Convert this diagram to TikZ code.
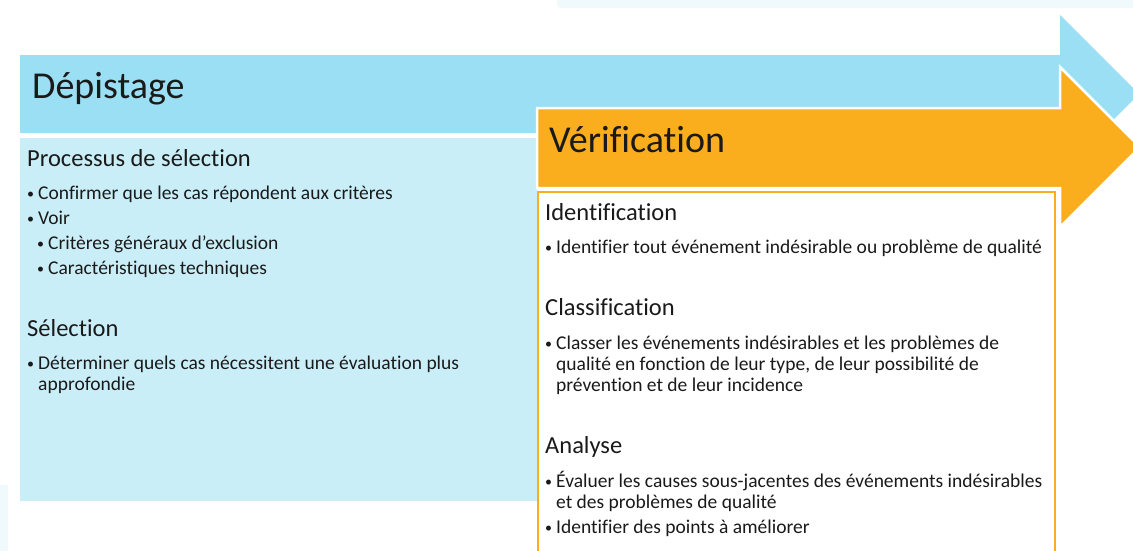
\documentclass[tikz,border=0pt]{standalone}
\usepackage{fontspec}
\setmainfont{Carlito}[Ligatures=NoCommon]
\definecolor{skyband}{HTML}{9ADFF3}
\definecolor{skypale}{HTML}{CAEEF8}
\definecolor{skyfaint}{HTML}{F0FAFD}
\definecolor{amber}{HTML}{FAAD1D}
\definecolor{ink}{HTML}{1A1A1A}
\tikzset{
  phase/.style={anchor=base west, inner sep=0pt, text=ink, font=\fontsize{38}{44}\selectfont},
  sub/.style={anchor=base west, inner sep=0pt, text=ink, font=\fontsize{24.5}{28}\selectfont},
  dot/.style={anchor=base west, inner sep=0pt, text=ink, yshift=1pt, font=\fontsize{14}{21}\selectfont},
  item/.style={anchor=base west, inner sep=0pt, text=ink, font=\fontsize{19.5}{21}\selectfont},
}
\begin{document}
\begin{tikzpicture}[x=1pt,y=-1pt]
    \useasboundingbox (0,0) rectangle (1133,550);

    % faint shapes at the edges
    \fill[skyfaint, rounded corners=4pt] (557,-6) rectangle (1140,8);
    \fill[skyfaint] (-5,485) rectangle (8,555);

    % Depistage arrow and box
    \fill[skyband] (20,55) -- (1060,55) -- (1060,15) -- (1139,94) -- (1060,173) -- (1060,133) -- (20,133) -- cycle;
    \fill[skypale] (20,138) rectangle (537,501);

    % Verification arrow and box
    \filldraw[fill=amber, draw=white, line width=2.5pt] (537,108) -- (1060,108) -- (1060,67) -- (1140,147) -- (1060,227) -- (1060,188) -- (537,188) -- cycle;
    \draw[amber, fill=white, line width=2.5pt] (538,192) rectangle (1055,565);

    \node[phase] (dep) at (32,98) {Dépistage};
    \node[phase] (ver) at (549,152) {Vérification};

    % left column
    \node[sub] (proc) at (27,166) {Processus de sélection};
    \node[dot] (p1) at (27,199) {•};
    \node[item] (t1) at (38,199) {Confirmer que les cas répondent aux critères};
    \node[dot] (p2) at (27,224) {•};
    \node[item] (t2) at (38,224) {Voir};
    \node[dot] (p3) at (37,249) {•};
    \node[item] (t3) at (48,249) {Critères généraux d’exclusion};
    \node[dot] (p4) at (37,274) {•};
    \node[item] (t4) at (48,274) {Caractéristiques techniques};

    \node[sub] (sel) at (27,336) {Sélection};
    \node[dot] (p5) at (27,369) {•};
    \node[item] (t5) at (38,369) {Déterminer quels cas nécessitent une évaluation plus};
    \node[item] (t5b) at (38,390) {approfondie};

    % right column
    \node[sub] (ide) at (545,220) {Identification};
    \node[dot] (q1) at (545,253) {•};
    \node[item] (u1) at (556,253) {Identifier tout événement indésirable ou problème de qualité};

    \node[sub] (cla) at (545,315) {Classification};
    \node[dot] (q2) at (545,349) {•};
    \node[item] (u2) at (556,349) {Classer les événements indésirables et les problèmes de};
    \node[item] (u2b) at (556,370) {qualité en fonction de leur type, de leur possibilité de};
    \node[item] (u2c) at (556,391) {prévention et de leur incidence};

    \node[sub] (ana) at (545,453) {Analyse};
    \node[dot] (q3) at (545,487) {•};
    \node[item] (u3) at (556,487) {Évaluer les causes sous-jacentes des événements indésirables};
    \node[item] (u3b) at (556,508) {et des problèmes de qualité};
    \node[dot] (q4) at (545,533) {•};
    \node[item] (u4) at (556,533) {Identifier des points à améliorer};

\end{tikzpicture}
\end{document}
